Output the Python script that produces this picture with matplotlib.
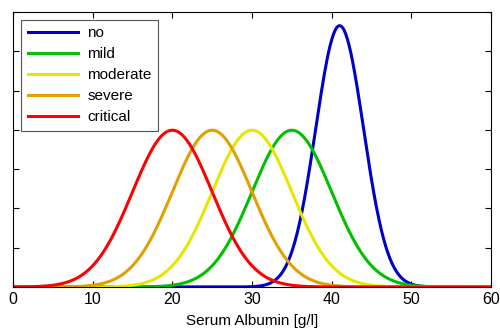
import numpy as np
import matplotlib.pyplot as plt

plt.rcParams['font.family'] = ['Liberation Sans', 'DejaVu Sans']

# severity classes of serum albumin, gaussian membership (mean, sigma in g/l)
labels = ["no", "mild", "moderate", "severe", "critical"]
means = [41, 35, 30, 25, 20]
sigmas = [3, 5, 5, 5, 5]
colors = ["#0000c8", "#00c000", "#e6e600", "#e0a000", "#ff0000"]

xticks = [0, 10, 20, 30, 40, 50, 60]

x = np.linspace(0, 60, 601)

fig = plt.figure(figsize=(5, 3.31), dpi=100)
ax = fig.add_axes([0.026, 0.133, 0.956, 0.831])

for lab, m, s, c in zip(labels, means, sigmas, colors):
    y = np.exp(-(x - m) ** 2 / (2 * s ** 2)) / (s * np.sqrt(2 * np.pi))
    ax.plot(x, y, color=c, lw=2.2, label=lab)

ax.set_xlim(0, 60)
ax.set_ylim(0, 0.14)
ax.set_xticks(xticks)
ax.set_yticks(np.arange(0, 0.141, 0.02))
ax.set_yticklabels([])
ax.tick_params(direction='in', length=4, top=True, right=True, labelsize=11.5, width=0.8)
ax.set_xlabel("Serum Albumin [g/l]", fontsize=11, labelpad=5)
for sp in ax.spines.values():
    sp.set_linewidth(0.8)

leg = ax.legend(loc='upper left', fontsize=11, fancybox=False, framealpha=1,
                edgecolor='#555555', handlelength=3.3, labelspacing=0.45,
                borderaxespad=0.5, handletextpad=0.6, borderpad=0.45)
leg.get_frame().set_linewidth(0.8)

fig.savefig("out.png", dpi=100)
